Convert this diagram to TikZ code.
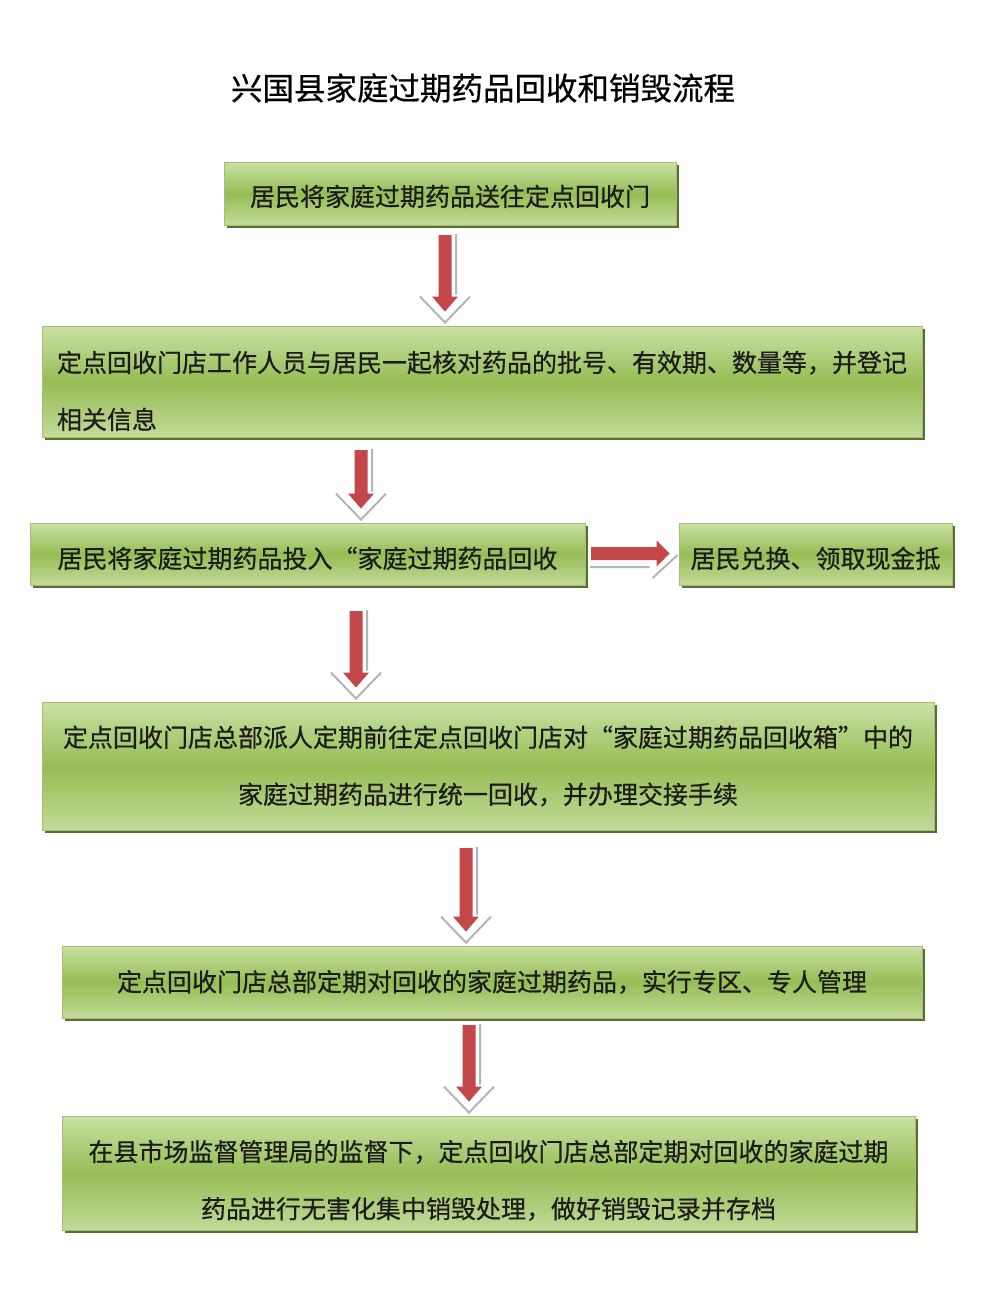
\documentclass[tikz,border=0pt]{standalone}
\usepackage{fontspec}
\setmainfont{Noto Sans CJK SC}
\newfontfamily\boxfont{Noto Sans CJK SC}[FakeBold=0.6]
\newfontfamily\titlefont{Noto Sans CJK SC}[FakeBold=0.5]
\usetikzlibrary{calc,shadows}

\definecolor{boxtop}{HTML}{CAE1A4}
\definecolor{boxmid}{HTML}{96BD55}
\definecolor{boxbot}{HTML}{C3DA98}
\definecolor{boxline}{HTML}{A3BF76}
\definecolor{boxshadow}{HTML}{566F2E}
\definecolor{arrowred}{HTML}{C4484A}
\definecolor{shadegray}{HTML}{B4B4B4}
\definecolor{textblack}{HTML}{1C1C1C}

\pgfdeclareverticalshading{boxshade}{100bp}{color(0bp)=(boxbot); color(25bp)=(boxbot);
  color(50bp)=(boxmid); color(75bp)=(boxtop); color(100bp)=(boxtop)}

\tikzset{
  stepbox/.style={draw=boxline, line width=0.8pt, shading=boxshade, inner sep=0pt, text=textblack,
    drop shadow={shadow xshift=3pt, shadow yshift=-3pt, fill=boxshadow, opacity=1},
    font=\boxfont\fontsize{25}{57}\selectfont},
  downbody/.style={fill=arrowred, to path={
    ($(\tikztostart)+(-6.5,0)$) -- ($(\tikztostart)+(6.5,0)$) -- ($(\tikztotarget)+(6.5,-29)$)
    -- ($(\tikztotarget)+(13,-29)$) -- ($(\tikztotarget)+(0,-14)$)
    -- ($(\tikztotarget)+(-13,-29)$) -- ($(\tikztotarget)+(-6.5,-29)$) -- cycle}},
  downshade/.style={draw=shadegray, line width=2pt, to path={
    ($(\tikztostart)+(11,-1)$) -- ($(\tikztotarget)+(11,-31)$)
    ($(\tikztotarget)+(-25,-29)$) -- ($(\tikztotarget)+(0,-3)$) -- ($(\tikztotarget)+(25,-29)$)}},
  rightbody/.style={fill=arrowred, to path={
    ($(\tikztostart)+(0,-6.5)$) -- ($(\tikztotarget)+(-22,-6.5)$) -- ($(\tikztotarget)+(-22,-13)$)
    -- ($(\tikztotarget)+(-9,0)$) -- ($(\tikztotarget)+(-22,13)$)
    -- ($(\tikztotarget)+(-22,6.5)$) -- ($(\tikztostart)+(0,6.5)$) -- cycle}},
  rightshade/.style={draw=shadegray, line width=2pt, to path={
    ($(\tikztostart)+(-1,13.5)$) -- ($(\tikztotarget)+(-29,13.5)$)
    ($(\tikztotarget)+(-26,24.5)$) -- ($(\tikztotarget)+(-1,1.5)$)}}
}

\begin{document}
\begin{tikzpicture}[x=1pt, y=-1pt]
\useasboundingbox (0,0) rectangle (982,1302);

\node[font=\titlefont\fontsize{31.5}{31.5}\selectfont] (title) at (483,88) {兴国县家庭过期药品回收和销毁流程};

% boxes
\node[stepbox, minimum width=452pt, minimum height=63pt] (b1) at (450,193.5) {\rule{0pt}{27pt}居民将家庭过期药品送往定点回收门};
\node[stepbox, minimum width=880pt, minimum height=111pt, text width=850pt, align=left] (b2) at (482,381.5) {\rule{0pt}{40pt}定点回收门店工作人员与居民一起核对药品的批号、有效期、数量等，并登记\\相关信息};
\node[stepbox, minimum width=555pt, minimum height=62pt] (b3) at (307.5,554) {\rule{0pt}{30pt}居民将家庭过期药品投入“家庭过期药品回收};
\node[stepbox, minimum width=273pt, minimum height=62pt] (b4) at (815.5,554) {\rule{0pt}{30pt}居民兑换、领取现金抵};
\node[stepbox, minimum width=892pt, minimum height=128pt, text width=880pt, align=center] (b5) at (488,766) {定点回收门店总部派人定期前往定点回收门店对“家庭过期药品回收箱”中的\\家庭过期药品进行统一回收，并办理交接手续};
\node[stepbox, minimum width=860pt, minimum height=72pt] (b6) at (492,982) {定点回收门店总部定期对回收的家庭过期药品，实行专区、专人管理};
\node[stepbox, minimum width=853pt, minimum height=114pt, text width=840pt, align=center] (b7) at (488.5,1173) {\rule{0pt}{36pt}在县市场监督管理局的监督下，定点回收门店总部定期对回收的家庭过期\\药品进行无害化集中销毁处理，做好销毁记录并存档};

% arrows
\coordinate (a1) at (445,235);
\coordinate (a2) at (361,450);
\coordinate (a3) at (356,611);
\coordinate (a4) at (466,848);
\coordinate (a5) at (469,1025);
\coordinate (a6) at (591,553.5);

\draw[downshade] (a1) to (a1 |- b2.north);
\fill[downbody] (a1) to (a1 |- b2.north);
\draw[downshade] (a2) to (a2 |- b3.north);
\fill[downbody] (a2) to (a2 |- b3.north);
\draw[downshade] (a3) to (a3 |- b5.north);
\fill[downbody] (a3) to (a3 |- b5.north);
\draw[downshade] (a4) to (a4 |- b6.north);
\fill[downbody] (a4) to (a4 |- b6.north);
\draw[downshade] (a5) to (a5 |- b7.north);
\fill[downbody] (a5) to (a5 |- b7.north);
\draw[rightshade] (a6) to (a6 -| b4.west);
\fill[rightbody] (a6) to (a6 -| b4.west);
\end{tikzpicture}
\end{document}
